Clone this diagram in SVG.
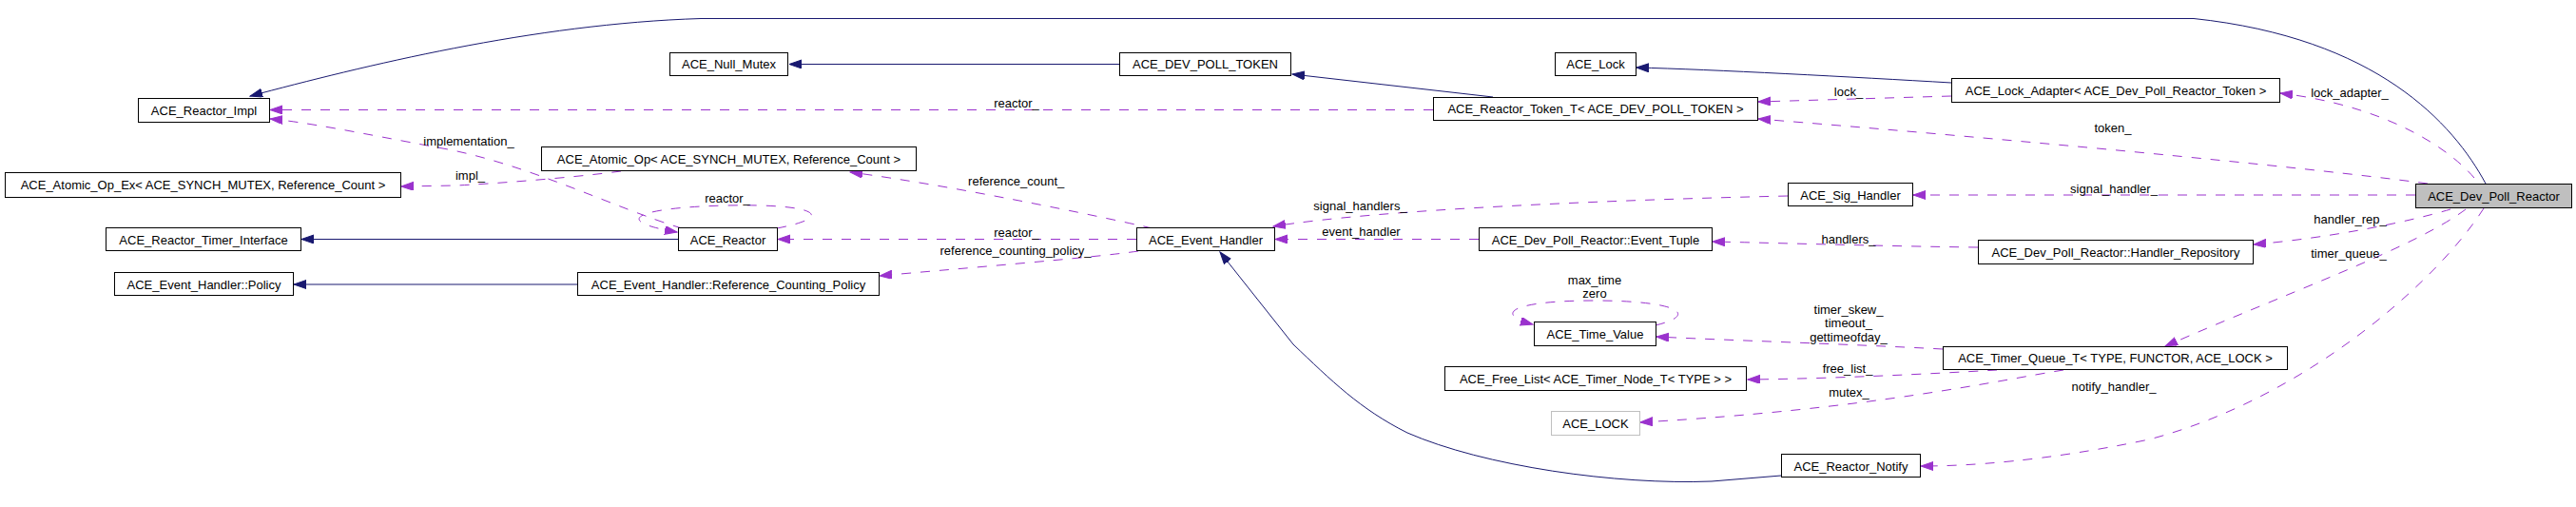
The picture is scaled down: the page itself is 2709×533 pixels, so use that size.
<svg xmlns="http://www.w3.org/2000/svg" width="2709" height="533" viewBox="0 0 2709 533">
<style>
.n rect{fill:#fff;stroke:#000;stroke-width:1}
.n text,.lb{font-family:"Liberation Sans",Arial,sans-serif;font-size:13px;fill:#000}
.n text{text-anchor:middle}
.lb{text-anchor:middle}
.inh{fill:none;stroke:#191970;stroke-width:1;marker-end:url(#ai)}
.use{fill:none;stroke:#9a32cd;stroke-width:1;stroke-dasharray:10,10;marker-end:url(#au)}
</style>
<defs>
<marker id="ai" markerUnits="userSpaceOnUse" markerWidth="14" markerHeight="10" refX="13" refY="4.5" orient="auto"><path d="M0,0 L13,4.5 L0,9 z" fill="#191970" stroke="#191970"/></marker>
<marker id="au" markerUnits="userSpaceOnUse" markerWidth="14" markerHeight="10" refX="13" refY="4.5" orient="auto"><path d="M0,0 L13,4.5 L0,9 z" fill="#9a32cd" stroke="#9a32cd"/></marker>
</defs>
<rect width="2709" height="533" fill="#fff"/>
<g id="edges">
<path class="inh" d="M2614,193 C2580,130 2500,40 2307,19.5 L737,19.5 C560,25 380,70 263,101"/>
<path class="inh" d="M713,251.5 L317,251.5"/>
<path class="inh" d="M607,299 L309,299"/>
<path class="inh" d="M1570,102 L1359,78"/>
<path class="inh" d="M1177,67.5 L830,67.5"/>
<path class="inh" d="M2052,87 C1950,81 1800,73 1721,71"/>
<path class="inh" d="M1873,500 L1800,506 C1700,510 1560,490 1480,455 C1430,430 1400,400 1360,362 L1283,265"/>
<path class="use" d="M1507,115.5 L284,115.5"/>
<path class="use" d="M717,240 C650,220 550,170 460,155 C380,140 320,128 284,125"/>
<path class="use" d="M817,240 C880,228 860,214 765,216 C670,218 640,232 712,244"/>
<path class="use" d="M653,180 C600,187 520,193 480,195 L422,196"/>
<path class="use" d="M1212,240 C1150,226 1000,195 894,181"/>
<path class="use" d="M1195,251.5 L818,251.5"/>
<path class="use" d="M1197,264 C1150,271 1000,283 925,290"/>
<path class="use" d="M1880,206 C1700,210 1450,220 1339,238"/>
<path class="use" d="M1555,251.5 L1341,251.5"/>
<path class="use" d="M2052,101 L1849,107"/>
<path class="use" d="M2553,193 C2420,175 2100,145 1849,125"/>
<path class="use" d="M2602,187 C2570,150 2500,110 2398,98"/>
<path class="use" d="M2540,205 L2012,205"/>
<path class="use" d="M2080,260 C1990,259 1850,255 1801,254"/>
<path class="use" d="M2577,220 C2530,234 2450,250 2370,257"/>
<path class="use" d="M2593,220 C2540,260 2400,310 2277,364"/>
<path class="use" d="M2043,367 C1950,362 1800,357 1742,354"/>
<path class="use" d="M1741,342 C1790,330 1760,316 1677,316 C1590,316 1570,330 1612,341"/>
<path class="use" d="M2100,389 C2030,393 1930,398 1838,399"/>
<path class="use" d="M2170,389 C2100,400 1970,430 1725,444"/>
<path class="use" d="M2612,219 C2560,300 2420,420 2260,462 C2150,485 2070,490 2020,490"/>
<text class="lb" x="1069" y="113">reactor_</text>
<text class="lb" x="493" y="152.5">implementation_</text>
<text class="lb" x="765" y="213">reactor_</text>
<text class="lb" x="494.5" y="189">impl_</text>
<text class="lb" x="1068.7" y="195">reference_count_</text>
<text class="lb" x="1069" y="248.5">reactor_</text>
<text class="lb" x="1068" y="268">reference_counting_policy_</text>
<text class="lb" x="1430.5" y="220.5">signal_handlers_</text>
<text class="lb" x="1431.5" y="248">event_handler</text>
<text class="lb" x="1944" y="101">lock_</text>
<text class="lb" x="2222" y="138.5">token_</text>
<text class="lb" x="2471" y="102">lock_adapter_</text>
<text class="lb" x="2223" y="203">signal_handler_</text>
<text class="lb" x="1944" y="255.5">handlers_</text>
<text class="lb" x="2471.5" y="235">handler_rep_</text>
<text class="lb" x="2470" y="270.5">timer_queue_</text>
<text class="lb" x="1944" y="329.5">timer_skew_</text>
<text class="lb" x="1944" y="344">timeout_</text>
<text class="lb" x="1944" y="358.5">gettimeofday_</text>
<text class="lb" x="1677" y="298.5">max_time</text>
<text class="lb" x="1677" y="313">zero</text>
<text class="lb" x="1943" y="392">free_list_</text>
<text class="lb" x="1944.5" y="417">mutex_</text>
<text class="lb" x="2223" y="411">notify_handler_</text>
</g>
<g id="n_dev_poll_reactor" class="n"><rect x="2540.5" y="193.5" width="164" height="25" style="fill:#bfbfbf"/><text x="2622.5" y="211">ACE_Dev_Poll_Reactor</text></g>
<g id="n_reactor_impl" class="n"><rect x="145.5" y="103.5" width="138" height="25"/><text x="214.5" y="121">ACE_Reactor_Impl</text></g>
<g id="n_null_mutex" class="n"><rect x="704.5" y="55.5" width="124" height="24"/><text x="766.5" y="72">ACE_Null_Mutex</text></g>
<g id="n_dev_poll_token" class="n"><rect x="1177.5" y="55.5" width="180" height="24"/><text x="1267.5" y="72">ACE_DEV_POLL_TOKEN</text></g>
<g id="n_lock" class="n"><rect x="1635.5" y="55.5" width="85" height="24"/><text x="1678" y="72">ACE_Lock</text></g>
<g id="n_lock_adapter" class="n"><rect x="2052.5" y="82.5" width="345" height="25"/><text x="2225" y="99.5">ACE_Lock_Adapter&lt; ACE_Dev_Poll_Reactor_Token &gt;</text></g>
<g id="n_reactor_token" class="n"><rect x="1507.5" y="102.5" width="341" height="24"/><text x="1678" y="119">ACE_Reactor_Token_T&lt; ACE_DEV_POLL_TOKEN &gt;</text></g>
<g id="n_atomic_op" class="n"><rect x="569.5" y="154.5" width="394" height="25"/><text x="766.5" y="171.5">ACE_Atomic_Op&lt; ACE_SYNCH_MUTEX, Reference_Count &gt;</text></g>
<g id="n_atomic_op_ex" class="n"><rect x="5.5" y="181.5" width="416" height="26"/><text x="213.5" y="199">ACE_Atomic_Op_Ex&lt; ACE_SYNCH_MUTEX, Reference_Count &gt;</text></g>
<g id="n_sig_handler" class="n"><rect x="1880.5" y="192.5" width="131" height="24"/><text x="1946" y="209.5">ACE_Sig_Handler</text></g>
<g id="n_timer_interface" class="n"><rect x="111.5" y="239.5" width="205" height="24"/><text x="214" y="256.5">ACE_Reactor_Timer_Interface</text></g>
<g id="n_reactor" class="n"><rect x="713.5" y="239.5" width="104" height="24"/><text x="765.5" y="256.5">ACE_Reactor</text></g>
<g id="n_event_handler" class="n"><rect x="1195.5" y="239.5" width="145" height="24"/><text x="1268" y="256.5">ACE_Event_Handler</text></g>
<g id="n_event_tuple" class="n"><rect x="1555.5" y="239.5" width="245" height="24"/><text x="1678" y="256.5">ACE_Dev_Poll_Reactor::Event_Tuple</text></g>
<g id="n_handler_repository" class="n"><rect x="2080.5" y="252.5" width="289" height="25"/><text x="2225" y="269.5">ACE_Dev_Poll_Reactor::Handler_Repository</text></g>
<g id="n_policy" class="n"><rect x="120.5" y="286.5" width="188" height="24"/><text x="214.5" y="303.5">ACE_Event_Handler::Policy</text></g>
<g id="n_ref_counting_policy" class="n"><rect x="607.5" y="286.5" width="317" height="24"/><text x="766" y="303.5">ACE_Event_Handler::Reference_Counting_Policy</text></g>
<g id="n_time_value" class="n"><rect x="1613.5" y="338.5" width="128" height="25"/><text x="1677.5" y="356">ACE_Time_Value</text></g>
<g id="n_timer_queue" class="n"><rect x="2043.5" y="364.5" width="362" height="24"/><text x="2224.5" y="381">ACE_Timer_Queue_T&lt; TYPE, FUNCTOR, ACE_LOCK &gt;</text></g>
<g id="n_free_list" class="n"><rect x="1519.5" y="385.5" width="317" height="25"/><text x="1678" y="403">ACE_Free_List&lt; ACE_Timer_Node_T&lt; TYPE &gt; &gt;</text></g>
<g id="n_ace_lock_param" class="n"><rect x="1631.5" y="432.5" width="93" height="25" style="stroke:#bfbfbf"/><text x="1678" y="450">ACE_LOCK</text></g>
<g id="n_reactor_notify" class="n"><rect x="1873.5" y="477.5" width="146" height="24"/><text x="1946.5" y="494.5">ACE_Reactor_Notify</text></g>
</svg>
